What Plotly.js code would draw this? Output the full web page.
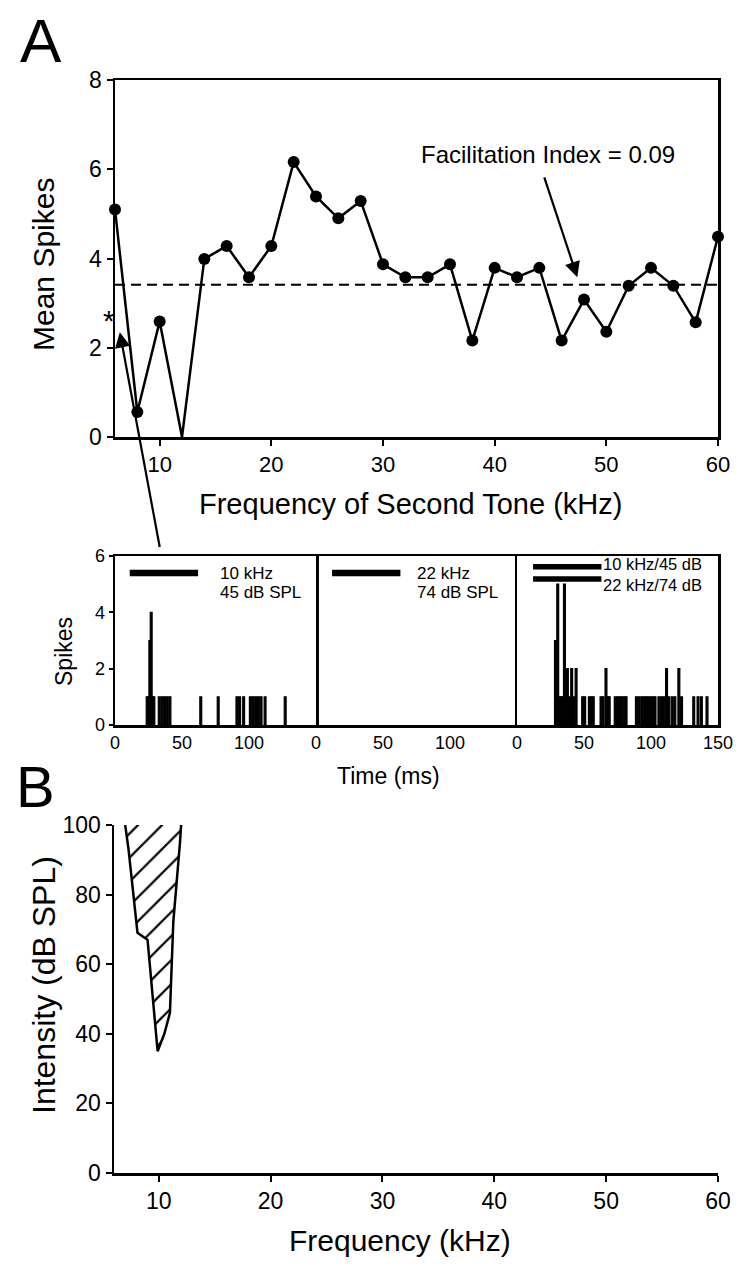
<!DOCTYPE html>
<html><head><meta charset="utf-8">
<script src="https://cdn.plot.ly/plotly-3.0.1.min.js"></script>
<style>html,body{margin:0;padding:0;background:#fff}#chart{width:751px;height:1265px}</style>
</head><body><div id="chart"></div>
<script>
// ---- Panel A (top): mean spikes vs second-tone frequency ----
const secondToneFreq = [6,8,10,12,14,16,18,20,22,24,26,28,30,32,34,36,38,40,42,44,46,48,50,52,54,56,58,60];
const meanSpikes    = [5.10,0.56,2.59,0,3.99,4.28,3.58,4.28,6.16,5.39,4.90,5.29,3.87,3.58,3.58,3.87,2.16,3.79,3.58,3.79,2.16,3.08,2.36,3.39,3.79,3.39,2.57,4.49];
const singleToneLevel = 3.41;   // dashed reference
const facilitationLabel = "Facilitation Index = 0.09";

// ---- Raster/PSTH panels ----
const psth1Time  = [24,25,26,27,28,29,33,35,37,39,41,64,77,91,93,96,101,103,105,107,109,112,127];
const psth1Count = [1,1,3,4,1,1,1,1,1,1,1,1,1,1,1,1,1,1,1,1,1,1,1];
const psth2Time  = [];
const psth2Count = [];
const psth3Time  = [28.7,30.4,31.7,32.9,34.2,35.4,36.7,37.6,39.1,40.8,42.3,44.1,49.0,50.5,54.0,55.5,56.9,62.7,64.2,66.4,67.9,68.8,73.3,75.0,76.8,78.2,80.0,81.4,89.1,91.1,93.1,94.8,96.5,98.0,99.8,101.5,103.0,105.9,107.9,109.6,111.6,113.3,115.8,117.8,120.8,122.8,131.9,135.1,137.6,141.8];
const psth3Count = [3,5,1,1,1,5,1,2,1,2,1,2,1,1,1,1,1,1,1,2,1,1,1,1,1,1,1,1,1,1,1,1,1,1,1,1,1,1,1,1,2,1,1,1,2,1,1,1,1,1];
const stimOn  = [11, 12, 12, 12];
const stimOff = [62, 63, 63, 63];
const stimLevel = [5.4, 5.4, 5.62, 5.18];
const stimPanel = [1, 2, 3, 3];
const panelLabels = [["10 kHz","45 dB SPL"],["22 kHz","74 dB SPL"],["10 kHz/45 dB","22 kHz/74 dB"]];
const rasterTicks12 = [0,50,100];
const rasterTicks3  = [0,50,100,150];

// ---- Panel B: tuning curve ----
const tuneFreq = [7.0,7.3,8.1,9.0,9.9,10.5,11.0,11.3,11.9,12.0];
const tuneLevel = [100,93,69,67,35,40,46,72,95,100];

const W=751,H=1265;
const px = v => v/W, py = v => 1 - v/H;
const REG = "Liberation Sans, Arial, Helvetica, sans-serif";

const traces = [];
traces.push({x:[secondToneFreq[0], secondToneFreq[secondToneFreq.length-1]], y:[singleToneLevel,singleToneLevel],
  mode:'lines', line:{color:'#000',width:2,dash:'10px,6px'}, xaxis:'x', yaxis:'y', hoverinfo:'skip'});
traces.push({x:secondToneFreq, y:meanSpikes, mode:'lines+markers', xaxis:'x', yaxis:'y',
  line:{color:'#000',width:2.5}, marker:{color:'#000',opacity:1,line:{width:0},size:meanSpikes.map(v=>v===0?0:12)}, cliponaxis:false});

const psth = [[psth1Time,psth1Count],[psth2Time,psth2Count],[psth3Time,psth3Count]];
psth.forEach((p,i)=>{
  traces.push({type:'bar', x:p[0], y:p[1], width:1.4, xaxis:'x'+(i+2), yaxis:'y'+(i+2),
    marker:{color:'#000', opacity:1, line:{color:'#000', width:1.2}}, hoverinfo:'skip'});
});
stimOn.forEach((s,i)=>{
  traces.push({x:[s,stimOff[i]], y:[stimLevel[i],stimLevel[i]], mode:'lines',
    line:{color:'#000',width:(stimPanel[i]===3?5.5:6.5)}, xaxis:'x'+(stimPanel[i]+1), yaxis:'y'+(stimPanel[i]+1), hoverinfo:'skip'});
});

traces.push({x:tuneFreq, y:tuneLevel, mode:'lines', fill:'toself', fillcolor:'rgba(255,255,255,0)',
  fillpattern:{shape:'/', fgcolor:'#000', bgcolor:'#fff', size:17, solidity:0.13},
  line:{color:'#000',width:2.5}, xaxis:'x5', yaxis:'y5', hoverinfo:'skip'});

const axBase = {showline:true, linecolor:'#000', linewidth:2.5, ticks:'outside', ticklen:6, tickwidth:2,
  tickcolor:'#000', showgrid:false, zeroline:false, fixedrange:true};

const layout = {
  width:W, height:H, margin:{l:0,r:0,t:0,b:0}, paper_bgcolor:'#fff', plot_bgcolor:'#fff',
  showlegend:false, bargap:0,
  xaxis: Object.assign({}, axBase, {domain:[px(115),px(718)], range:[6,60], tick0:0, dtick:10, mirror:true,
    tickfont:{family:REG,size:22,color:'#000'}, anchor:'y'}),
  yaxis: Object.assign({}, axBase, {domain:[py(437),py(80)], range:[0,8], dtick:2, mirror:true,
    tickfont:{family:REG,size:23,color:'#000'}, anchor:'x'}),
  xaxis5: Object.assign({}, axBase, {domain:[px(114),px(718)], range:[6,60], tick0:0, dtick:10,
    tickfont:{family:REG,size:23,color:'#000'}, anchor:'y5'}),
  yaxis5: Object.assign({}, axBase, {domain:[py(1173),py(825)], range:[0,100], dtick:20,
    tickfont:{family:REG,size:23,color:'#000'}, anchor:'x5'}),
  annotations:[], shapes:[]
};
const rdom = [[115,316],[316,517],[517,718]];
for (let i=0;i<3;i++){
  const n=i+2;
  layout['xaxis'+n] = Object.assign({}, axBase, {domain:[px(rdom[i][0]),px(rdom[i][1])], range:[0,150],
    tickvals: i===2?rasterTicks3:rasterTicks12, mirror:true, ticklen:0,
    tickfont:{family:REG,size:18,color:'#000'}, anchor:'y'+n});
  layout['yaxis'+n] = Object.assign({}, axBase, {domain:[py(725),py(556)], range:[0,6], dtick:2,
    showline: i!==1, mirror: i!==1,
    ticklen:i===0?4:0, showticklabels:i===0, tickfont:{family:REG,size:18,color:'#000'}, anchor:'x'+n});
  panelLabels[i].forEach((t,j)=>{
    const tx = i===2 ? 63 : (i===0?77:74);
    const ty = i===2 ? [5.7,4.98][j] : [5.38,4.72][j];
    layout.annotations.push({xref:'x'+n, yref:'y'+n, x:tx, y:ty, text:t, showarrow:false, xanchor:'left', yanchor:'middle',
      font:{family:REG, size:i===2?16.5:17, color:'#000'}});
  });
}
const A = layout.annotations;
function pa(x,y,text,size,angle){A.push({xref:'paper',yref:'paper',x:px(x),y:py(y),xanchor:'center',yanchor:'middle',
  text:text,textangle:angle||0,showarrow:false,font:{family:REG,size:size,color:'#000'}});}
pa(41,40,'A',62);
pa(35,786,'B',58);
pa(43,265,'Mean Spikes',30,-90);
pa(410,504,'Frequency of Second Tone (kHz)',29);
pa(64,652,'Spikes',23,-90);
pa(388,776,'Time (ms)',23);
pa(44,985,'Intensity (dB SPL)',32,-90);
pa(400,1240,'Frequency (kHz)',30);
pa(109,320,'*',30);
A.push({xref:'x',yref:'y',x:44.8,y:6.32,text:facilitationLabel,showarrow:false,xanchor:'center',yanchor:'middle',font:{family:REG,size:24,color:'#000'}});
A.push({xref:'x',yref:'y',x:47.4,y:3.58,axref:'x',ayref:'y',ax:44.4,ay:5.85,text:'',showarrow:true,
  arrowhead:2,arrowsize:1.4,arrowwidth:2.2,arrowcolor:'#000'});
A.push({xref:'x',yref:'y',x:6.43,y:2.35,axref:'x',ayref:'y',ax:10.03,ay:-2.5,text:'',showarrow:true,
  arrowhead:2,arrowsize:1.4,arrowwidth:2.2,arrowcolor:'#000'});

Plotly.newPlot('chart', traces, layout, {staticPlot:true});
</script></body></html>
